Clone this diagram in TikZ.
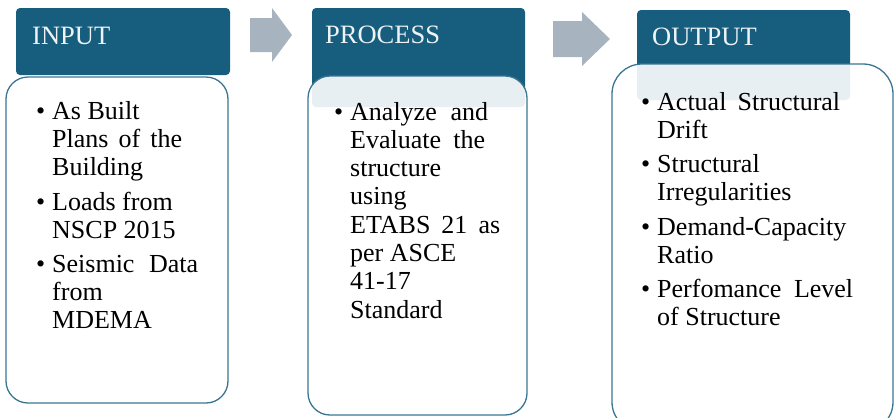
\documentclass[tikz,border=0pt]{standalone}
\usepackage{fontspec}
\setmainfont{Liberation Serif}
\newfontfamily\diagramfont{Liberation Serif}
\definecolor{hdr}{RGB}{23,94,126}
\definecolor{edge}{RGB}{58,118,146}
\definecolor{arr}{RGB}{167,180,191}
\definecolor{hdrtext}{RGB}{238,243,246}
% bullet hung to the left of an item's first line
\newcommand\itembullet{\leavevmode\llap{\textbullet\hspace{7pt}}}
% a block of lines whose baseline is that of its first line
\newcommand\itemlines[2]{\parbox[t]{#1}{\raggedright #2}}

\begin{document}
\begin{tikzpicture}[x=1pt,y=-1pt,
  header/.style={fill=hdr, rounded corners=4pt},
  panel/.style={draw=edge, line width=1.3pt, fill=white, fill opacity=0.9, rounded corners=22pt},
  flow/.style={fill=arr},
  title/.style={anchor=base west, inner sep=0, text=hdrtext, font=\diagramfont\fontsize{26.5}{30}\selectfont},
  item/.style={anchor=base west, inner sep=0, font=\diagramfont\fontsize{26}{28}\selectfont}]
\useasboundingbox (0,0) rectangle (895,418);
\clip (0,0) rectangle (895,418);

% block arrows between the stages
\fill[flow] (250,18) -- (272,18) -- (272,8) -- (292,35) -- (272,62) -- (272,52) -- (250,52) -- cycle;
\fill[flow] (553,21) -- (582,21) -- (582,12) -- (610,39) -- (582,66) -- (582,57) -- (553,57) -- cycle;

% stage headers
\fill[header] (16,8) rectangle (230,75);
\fill[header] (312,8) rectangle (525,107);
\fill[header] (637,10) rectangle (850,100);

% stage panels, laid over the headers
\draw[panel] (6,77) rectangle (228,403);
\draw[panel] (308,76) rectangle (527,415);
\draw[panel, rounded corners=30pt] (612,64) rectangle (893,432);

% header titles
\node[title] (tin) at (32,44) {INPUT};
\node[title] (tproc) at (325,43) {PROCESS};
\node[title] (tout) at (652,45) {OUTPUT};

% INPUT items
\node[item] (in1) at (52,119) {\itemlines{170pt}{\itembullet As Built\\\makebox[130pt][s]{Plans of the}\\Building}};
\node[item] (in2) at (52,210) {\itemlines{170pt}{\itembullet Loads from\\NSCP 2015}};
\node[item] (in3) at (52,272) {\itemlines{170pt}{\itembullet\makebox[146pt][s]{Seismic Data}\\from\\MDEMA}};

% PROCESS item
\node[item, font=\diagramfont\fontsize{26}{28.3}\selectfont] (pr1) at (350,120) {\itemlines{170pt}{\itembullet\makebox[138pt][s]{Analyze and}\\\makebox[135pt][s]{Evaluate the}\\structure\\using\\\makebox[150pt][s]{ETABS 21 as}\\per ASCE\\41-17\\Standard}};

% OUTPUT items
\node[item] (out1) at (657,110) {\itemlines{220pt}{\itembullet\makebox[183pt][s]{Actual Structural}\\Drift}};
\node[item] (out2) at (657,172) {\itemlines{220pt}{\itembullet Structural\\Irregularities}};
\node[item] (out3) at (657,235) {\itemlines{220pt}{\itembullet Demand-Capacity\\Ratio}};
\node[item] (out4) at (657,297) {\itemlines{220pt}{\itembullet\makebox[196pt][s]{Perfomance Level}\\of Structure}};
\end{tikzpicture}
\end{document}
